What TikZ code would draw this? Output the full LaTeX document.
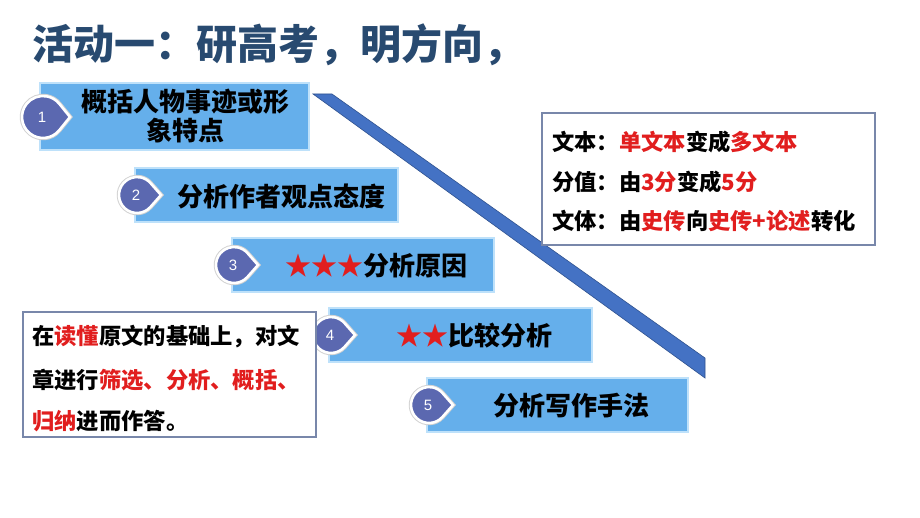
\documentclass[tikz,border=0pt]{standalone}
\usepackage{fontspec}
\setmainfont{Liberation Sans}
\newfontfamily\cjk{Noto Sans CJK SC}
\definecolor{titleblue}{RGB}{40,74,112}
\definecolor{bannerblue}{RGB}{101,175,235}
\definecolor{bannerline}{RGB}{190,225,250}
\definecolor{badgeblue}{RGB}{91,104,176}
\definecolor{bandblue}{RGB}{68,114,196}
\definecolor{bandedge}{RGB}{47,82,143}
\definecolor{framegray}{RGB}{120,135,170}
\definecolor{hired}{RGB}{225,30,30}
\tikzset{
  bannerbox/.style={fill=bannerblue, draw=bannerline, line width=1.2pt},
  bannertext/.style={font=\cjk\bfseries\fontsize{26}{29}\selectfont, inner sep=0pt, align=center, text=black},
  boxframe/.style={draw=framegray, line width=1.5pt, fill=white},
  boxtext/.style={font=\cjk\bfseries\fontsize{22.3}{24}\selectfont, inner sep=0pt, anchor=west, text=black},
  numtext/.style={text=white, font=\fontsize{15}{15}\selectfont, inner sep=0pt},
  pics/badge/.style args={#1/#2}{code={
    \path[draw=black!18, line width=4.5pt]
      ({acos(#1/#2)}:#1) arc ({acos(#1/#2)}:{360-acos(#1/#2)}:#1) -- (#2,0) -- cycle;
    \path[fill=badgeblue, draw=white, line width=2.6pt]
      ({acos(#1/#2)}:#1) arc ({acos(#1/#2)}:{360-acos(#1/#2)}:#1) -- (#2,0) -- cycle;
  }},
}
\newcommand\hr[1]{\textcolor{hired}{#1}}
\begin{document}
\begin{tikzpicture}[x=1pt,y=-1pt]
\useasboundingbox[fill=white] (0,0) rectangle (920,518);

% title
\node[anchor=west, inner sep=0pt, text=titleblue, font=\cjk\bfseries\fontsize{41}{41}\selectfont] (title) at (32,45) {活动一：研高考，明方向，};

% diagonal band
\coordinate (bandA) at (313,94);
\coordinate (bandB) at (332,94);
\coordinate (bandC) at (705,358);
\coordinate (bandD) at (705,378);
\path[fill=bandblue, draw=bandedge, line width=0.6pt] (bandA) -- (bandB) -- (bandC) -- (bandD) -- cycle;

% banners
\path[bannerbox] (40,83) rectangle (309,150);
\path[bannerbox] (135,168) rectangle (398,222);
\path[bannerbox] (232,238) rectangle (494,292);
\path[bannerbox] (329,308) rectangle (592,362);
\path[bannerbox] (427,378) rectangle (688,432);

% badges
\pic at (43,117) {badge={21/27}};
\pic at (137,195) {badge={18/24}};
\pic at (234,265) {badge={18/24}};
\pic at (331,335) {badge={18/24}};
\pic at (429,405) {badge={18/24}};
\node[numtext] (n1) at (42,117) {1};
\node[numtext] (n2) at (136,195) {2};
\node[numtext] (n3) at (233,265) {3};
\node[numtext] (n4) at (330,335) {4};
\node[numtext] (n5) at (428,405) {5};

% banner texts
\node[bannertext] (t1) at (185,116) {概括人物事迹或形\\象特点};
\node[bannertext] (t2) at (281,196) {分析作者观点态度};
\node[bannertext] (t3) at (376,266) {\textcolor{hired}{★★★}分析原因};
\node[bannertext] (t4) at (474,336) {\textcolor{hired}{★★}比较分析};
\node[bannertext] (t5) at (571,406) {分析写作手法};

% right box
\path[boxframe] (542,113) rectangle (875,245);
\node[boxtext] (r1) at (552,142) {文本：\hr{单文本}变成\hr{多文本}};
\node[boxtext] (r2) at (552,182) {分值：由\hr{3分}变成\hr{5分}};
\node[boxtext] (r3) at (552,221) {文体：由\hr{史传}向\hr{史传+论述}转化};

% left box
\path[boxframe] (23,312) rectangle (316,437);
\node[boxtext] (l1) at (32,337) {在\hr{读懂}原文的基础上，对文};
\node[boxtext] (l2) at (32,380) {章进行\hr{筛选、分析、概括、}};
\node[boxtext] (l3) at (32,421) {\hr{归纳}进而作答。};
\end{tikzpicture}
\end{document}
